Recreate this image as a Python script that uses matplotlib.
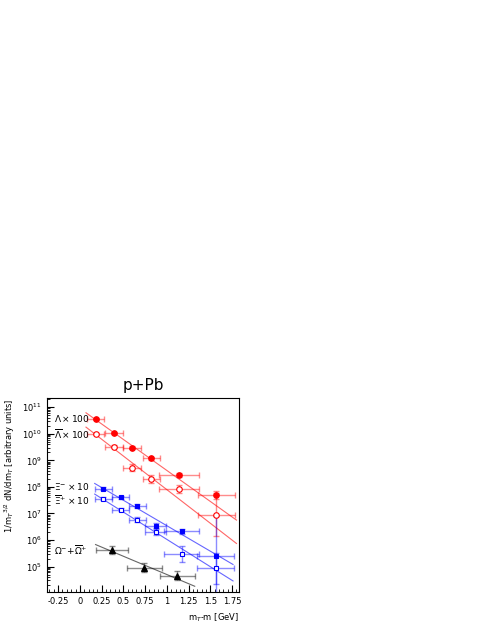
import matplotlib.pyplot as plt
import numpy as np

# ── Data (log10 of yield) ─────────────────────────────────────────────────────
lam_x   = [0.18, 0.39, 0.60, 0.82, 1.14, 1.57]
lam_y   = [10.56, 10.03, 9.48, 9.07, 8.45, 7.69]
lam_xe  = [0.10, 0.10, 0.10, 0.10, 0.23, 0.21]
lam_ye  = [0.05, 0.05, 0.05, 0.06, 0.07, 0.15]
alam_x  = [0.18, 0.39, 0.60, 0.82, 1.14, 1.57]
alam_y  = [9.99, 9.51, 8.73, 8.29, 7.93, 6.96]
alam_ye = [0.05, 0.05, 0.12, 0.14, 0.15, 0.80]
xi_x    = [0.27, 0.47, 0.66, 0.87, 1.17, 1.56]
xi_y    = [7.93, 7.61, 7.28, 6.54, 6.33, 5.41]
xi_xe   = [0.10, 0.10, 0.10, 0.12, 0.20, 0.21]
xi_ye   = [0.05, 0.05, 0.06, 0.12, 0.10, 1.5]
axi_y   = [7.56, 7.14, 6.77, 6.32, 5.46, 4.93]
axi_ye  = [0.05, 0.05, 0.08, 0.12, 0.30, 0.60]
om_x    = [0.37, 0.74, 1.12]
om_y    = [5.63, 4.96, 4.66]
om_xe   = [0.18, 0.20, 0.20]
om_ye   = [0.15, 0.18, 0.18]

# fit lines: (x0, y0, x1, y1) in GeV / log10
fits = {
    "lam":  (0.07, 10.79, 1.80, 6.75),
    "alam": (0.07, 10.25, 1.80, 5.87),
    "xi":   (0.17, 8.13, 1.76, 5.08),
    "axi":  (0.17, 7.73, 1.76, 4.46),
    "om":   (0.18, 5.83, 1.32, 4.26),
}

RED, BLUE = "#ff0000", "#0000ff"

fig = plt.figure(figsize=(4.93, 6.38), dpi=100)
ax = fig.add_axes([0.095, 0.072, 0.39, 0.304])

def pts(x, y, xe, ye, color, marker, mfc, ms):
    y = np.array(y); ye = np.array(ye)
    yv = 10 ** y
    lo = yv - 10 ** (y - ye)
    hi = 10 ** (y + ye) - yv
    ax.errorbar(x, yv, xerr=xe, yerr=[lo, hi], fmt="none",
                ecolor=color, alpha=0.45, elinewidth=1, capsize=2)
    ax.plot(x, yv, linestyle="none", marker=marker, color=color,
            mfc=mfc, ms=ms, mew=0.8, zorder=5)

for key, c in [("lam", RED), ("alam", RED), ("xi", BLUE), ("axi", BLUE), ("om", "k")]:
    x0, y0, x1, y1 = fits[key]
    ax.plot([x0, x1], [10 ** y0, 10 ** y1], color=c, lw=0.8, alpha=0.6)

pts(lam_x, lam_y, lam_xe, lam_ye, RED, "o", RED, 4)
pts(alam_x, alam_y, lam_xe, alam_ye, RED, "o", "white", 4)
pts(xi_x, xi_y, xi_xe, xi_ye, BLUE, "s", BLUE, 3.5)
pts(xi_x, axi_y, xi_xe, axi_ye, BLUE, "s", "white", 3.5)
pts(om_x, om_y, om_xe, om_ye, "k", "^", "k", 4)

ax.set_yscale("log")
ax.set_xlim(-0.38, 1.83)
ax.set_ylim(1.1e4, 2.2e11)
ax.set_xticks([-0.25, 0, 0.25, 0.5, 0.75, 1, 1.25, 1.5, 1.75])
ax.set_xticklabels(["-0.25", "0", "0.25", "0.5", "0.75", "1", "1.25", "1.5", "1.75"])
ax.set_yticks([1e5, 1e6, 1e7, 1e8, 1e9, 1e10, 1e11])
ax.minorticks_on()
ax.tick_params(which="both", direction="in", top=False, right=False, labelsize=6)
ax.tick_params(which="major", length=5)
ax.tick_params(which="minor", length=2.5)
for s in ax.spines.values():
    s.set_linewidth(0.8)

ax.set_title("p+Pb", fontsize=11, pad=6)
ax.set_xlabel("m$_T$-m [GeV]", fontsize=6, loc="right")
ax.set_ylabel("1/m$_T$$^{3/2}$ dN/dm$_T$ [arbitrary units]", fontsize=6, loc="top")

tk = dict(fontsize=6.5, transform=ax.transData, va="center")
ax.text(-0.30, 10 ** 10.56, r"$\Lambda\times$100", **tk)
ax.text(-0.30, 10 ** 9.99, r"$\overline{\Lambda}\times$100", **tk)
ax.text(-0.30, 10 ** 8.0, r"$\Xi^{-}\times$10", **tk)
ax.text(-0.30, 10 ** 7.5, r"$\overline{\Xi}^{+}\times$10", **tk)
ax.text(-0.30, 10 ** 5.63, r"$\Omega^{-}$+$\overline{\Omega}^{+}$", **tk)

fig.savefig("out.png", dpi=100)
